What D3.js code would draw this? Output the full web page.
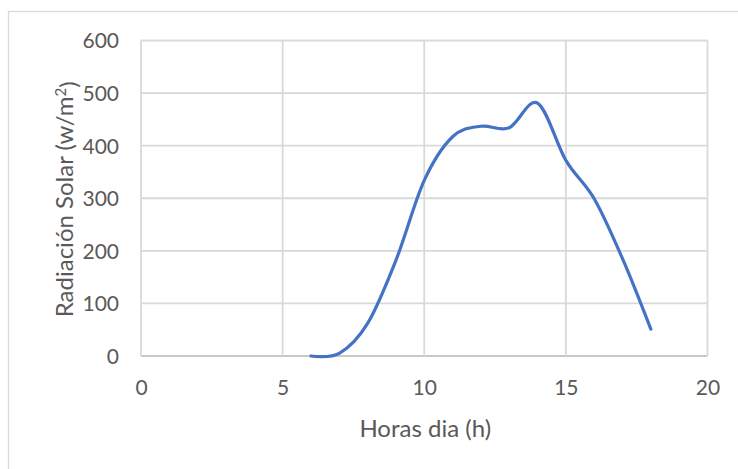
<!DOCTYPE html>
<html><head><meta charset="utf-8">
<script src="https://cdn.jsdelivr.net/npm/d3@7"></script>
<style>
body{margin:0;background:#fff;}
svg{display:block;font-family:Lato,"Open Sans",sans-serif;}
</style></head>
<body><svg id="c" width="738" height="469"></svg>
<script>
const hours = [6,7,8,9,10,11,12,13,14,15,16,17,18];
const radiation = [0,5,62,182,334,417,437,434,481,372,299,185,51];
const xTicks = [0,5,10,15,20];
const yTicks = [0,100,200,300,400,500,600];
const xTitle = "Horas dia (h)";

const svg = d3.select("#c");
const W=738,H=469;
const m={l:141,r:30.5,t:40.5,b:113};
const x=d3.scaleLinear().domain([0,20]).range([m.l,W-m.r]);
const y=d3.scaleLinear().domain([0,600]).range([H-m.b,m.t]);

// outer chart border
svg.append("rect").attr("x",8.5).attr("y",11.5).attr("width",W+10).attr("height",H+10)
  .attr("fill","none").attr("stroke","#d9d9d9").attr("stroke-width",1.3);

// gridlines
svg.append("g").selectAll("line").data(yTicks).join("line")
  .attr("x1",x(0)).attr("x2",x(20)).attr("y1",d=>y(d)).attr("y2",d=>y(d))
  .attr("stroke",d=>d===0?"#c8c8c8":"#d9d9d9").attr("stroke-width",1.8);
svg.append("g").selectAll("line").data(xTicks).join("line")
  .attr("y1",y(0)).attr("y2",y(600)).attr("x1",d=>x(d)).attr("x2",d=>x(d))
  .attr("stroke","#d9d9d9").attr("stroke-width",1.8);

// axes labels via d3 axes
const yAxis=svg.append("g").attr("transform",`translate(${x(0)-10},0)`)
  .call(d3.axisLeft(y).tickValues(yTicks).tickSize(0).tickPadding(12));
const xAxis=svg.append("g").attr("transform",`translate(0,${y(0)+16})`)
  .call(d3.axisBottom(x).tickValues(xTicks).tickSize(0).tickPadding(8));
[yAxis,xAxis].forEach(a=>{
  a.select(".domain").remove();
  a.selectAll("text").attr("fill","#595959").style("font-size","21px").style("font-family","Lato,'Open Sans',sans-serif");
});
yAxis.selectAll("text").attr("dy","0.35em");

// line
const line=d3.line().x((d,i)=>x(hours[i])).y(d=>y(d)).curve(d3.curveCardinal.tension(0));
svg.append("path").datum(radiation).attr("d",line)
  .attr("fill","none").attr("stroke","#4472c4").attr("stroke-width",3.2)
  .attr("stroke-linecap","round").attr("stroke-linejoin","round");

// axis titles
svg.append("text").attr("x",(x(0)+x(20))/2+1).attr("y",437)
  .attr("text-anchor","middle").attr("fill","#595959").style("font-size","24px").text(xTitle);
const yt=svg.append("text").attr("transform",`translate(73,${(y(0)+y(600))/2+1}) rotate(-90)`)
  .attr("text-anchor","middle").attr("fill","#595959").style("font-size","24px");
yt.append("tspan").text("Radiación Solar (w/m");
yt.append("tspan").attr("dy","-0.45em").style("font-size","15px").text("2");
yt.append("tspan").attr("dy","0.45em").text(")");
</script></body></html>
